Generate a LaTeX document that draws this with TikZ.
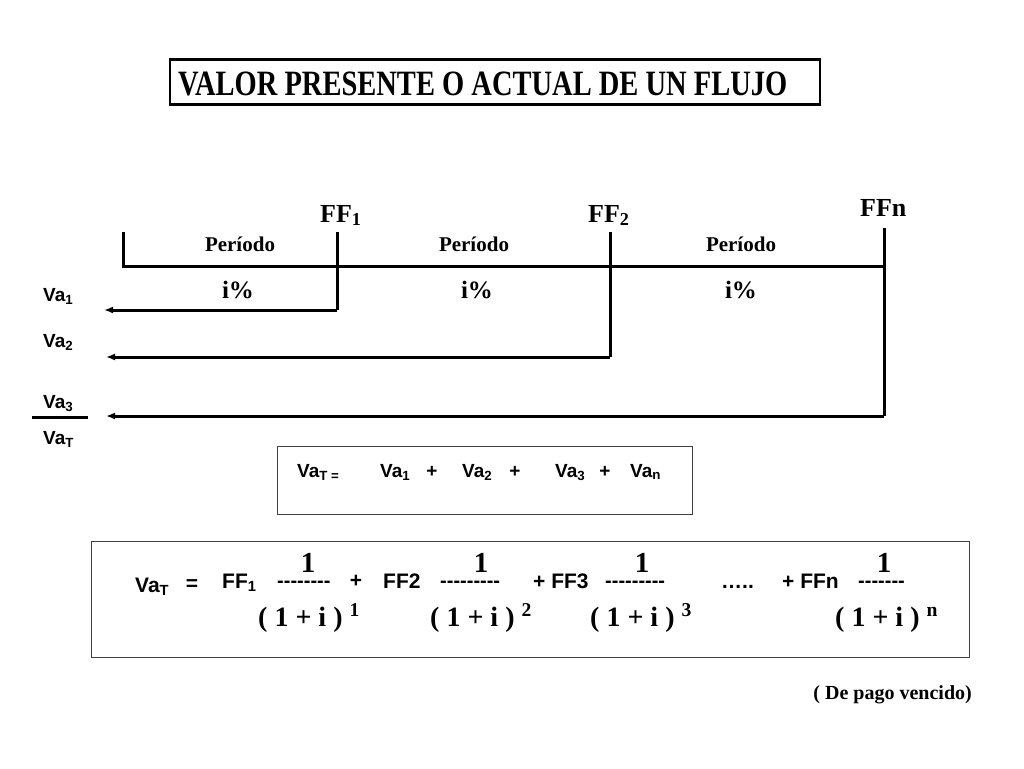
\documentclass[tikz,border=0pt]{standalone}
\usepackage{fontspec}
\setmainfont{Liberation Serif}
\newfontfamily\arial{Liberation Sans}
\usetikzlibrary{arrows.meta}
\newcommand\hy{\mbox{-}}
\begin{document}
\begin{tikzpicture}[x=1pt,y=-1pt,
  tnr/.style={font=\fontsize{#1}{#1}\selectfont\bfseries, inner sep=0pt},
  ari/.style={font=\fontsize{#1}{#1}\selectfont\arial\bfseries, inner sep=0pt},
  dashrow/.style={font=\fontsize{20}{20}\selectfont\arial\bfseries, inner sep=0pt, text height=8pt, text depth=0pt},
  numer/.style={font=\fontsize{29}{29}\selectfont\bfseries, inner sep=0pt, text height=20pt, text depth=0pt},
  thick line/.style={line width=3pt},
  flow/.style={line width=3pt, -{Latex[length=9pt,width=7pt]}},
  thinbox/.style={draw=black!75, line width=1pt}]
\useasboundingbox (0,0) rectangle (1024,768);
\fill[white] (0,0) rectangle (1024,768);

% title
\node[draw, line width=2.5pt, minimum width=650pt, minimum height=45pt] (title) at (495,82) {};
\node[tnr=28.5, anchor=base west] (titletext) at (178,95) {\scalebox{1}[1.25]{VALOR PRESENTE O ACTUAL DE UN FLUJO}};

% timeline coordinates
\coordinate (t0top) at (123,232);
\coordinate (t0) at (123,266);
\coordinate (f1top) at (337,232);
\coordinate (f1bot) at (337,310);
\coordinate (f2top) at (610,232);
\coordinate (f2bot) at (610,357);
\coordinate (fntop) at (884,228);
\coordinate (fn) at (884,266);
\coordinate (fnbot) at (884,416);
\coordinate (a1) at (104,310);
\coordinate (a2) at (106,357);
\coordinate (a3) at (106,416);

\draw[thick line] (t0top) -- (t0) -- (fn);
\draw[thick line] (f1top) -- (f1bot);
\draw[thick line] (f2top) -- (f2bot);
\draw[thick line] (fntop) -- (fnbot);
\draw[flow] (f1bot) -- (a1);
\draw[flow] (f2bot) -- (a2);
\draw[flow] (fnbot) -- (a3);

% FF labels
\node[tnr=26, anchor=base west] (ff1) at (320,222) {FF\textsubscript{1}};
\node[tnr=26, anchor=base west] (ff2) at (588,222) {FF\textsubscript{2}};
\node[tnr=26, anchor=base west] (ffn) at (860,216) {FFn};

% periods
\node[tnr=21, anchor=base] (p1) at (240,251) {Período};
\node[tnr=21, anchor=base] (p2) at (474,251) {Período};
\node[tnr=21, anchor=base] (p3) at (741,251) {Período};
\node[tnr=25, anchor=base] (i1) at (238,298) {i\%};
\node[tnr=25, anchor=base] (i2) at (477,298) {i\%};
\node[tnr=25, anchor=base] (i3) at (741,298) {i\%};

% Va labels
\node[ari=19, anchor=base west] (va1) at (43,301) {Va\textsubscript{1}};
\node[ari=19, anchor=base west] (va2) at (43,347) {Va\textsubscript{2}};
\node[ari=19, anchor=base west] (va3) at (43,408) {Va\textsubscript{3}};
\node[ari=19, anchor=base west] (vat) at (43,444) {Va\textsubscript{T}};
\coordinate (ul1) at (32,417);
\coordinate (ul2) at (88,417);
\draw[thick line] (ul1) -- (ul2);

% box 2
\node[thinbox, minimum width=415pt, minimum height=68pt] (box2) at (484.5,480) {};
\node[ari=19, anchor=base west] (b2vat) at (297,477) {Va\textsubscript{T =}};
\node[ari=19, anchor=base west] (b2va1) at (380,477) {Va\textsubscript{1}};
\node[ari=19, anchor=base] (b2p1) at (432,477) {+};
\node[ari=19, anchor=base west] (b2va2) at (462,477) {Va\textsubscript{2}};
\node[ari=19, anchor=base] (b2p2) at (515,477) {+};
\node[ari=19, anchor=base west] (b2va3) at (555,477) {Va\textsubscript{3}};
\node[ari=19, anchor=base] (b2p3) at (605,477) {+};
\node[ari=19, anchor=base west] (b2van) at (630,477) {Va\textsubscript{n}};

% box 3
\node[thinbox, minimum width=878pt, minimum height=116pt] (box3) at (530,599) {};
\node[ari=21, anchor=base west] (b3vat) at (135,592) {Va\textsubscript{T}};
\node[ari=21, anchor=base] (b3eq) at (192,590) {=};
\node[ari=21, anchor=base west] (b3ff1) at (222,588) {FF\textsubscript{1}};
\node[dashrow, anchor=base west] (d1) at (277,587) {\hy\hy\hy\hy\hy\hy\hy\hy};
\node[ari=21, anchor=base] (b3p1) at (356,587) {+};
\node[ari=21, anchor=base west] (b3ff2) at (383,588) {FF2};
\node[dashrow, anchor=base west] (d2) at (440,587) {\hy\hy\hy\hy\hy\hy\hy\hy\hy};
\node[ari=21, anchor=base west] (b3ff3) at (533,588) {+ FF3};
\node[dashrow, anchor=base west] (d3) at (605,587) {\hy\hy\hy\hy\hy\hy\hy\hy\hy};
\node[ari=21, anchor=base west] (dots) at (721,588) {…..};
\node[ari=21, anchor=base west] (b3ffn) at (782,588) {+ FFn};
\node[dashrow, anchor=base west] (d4) at (858,587) {\hy\hy\hy\hy\hy\hy\hy};

\node[numer, anchor=base] (n1) at (308,572) {1};
\node[numer, anchor=base] (n2) at (481,572) {1};
\node[numer, anchor=base] (n3) at (642,572) {1};
\node[numer, anchor=base] (n4) at (884,572) {1};

\node[tnr=28, anchor=base west] (den1) at (258,626) {( 1 + i ) \textsuperscript{1}};
\node[tnr=28, anchor=base west] (den2) at (430,626) {( 1 + i ) \textsuperscript{2}};
\node[tnr=28, anchor=base west] (den3) at (590,626) {( 1 + i ) \textsuperscript{3}};
\node[tnr=28, anchor=base west] (den4) at (835,626) {( 1 + i ) \textsuperscript{n}};

\node[tnr=20, anchor=base east] (venc) at (972,699) {( De pago vencido)};
\end{tikzpicture}
\end{document}
